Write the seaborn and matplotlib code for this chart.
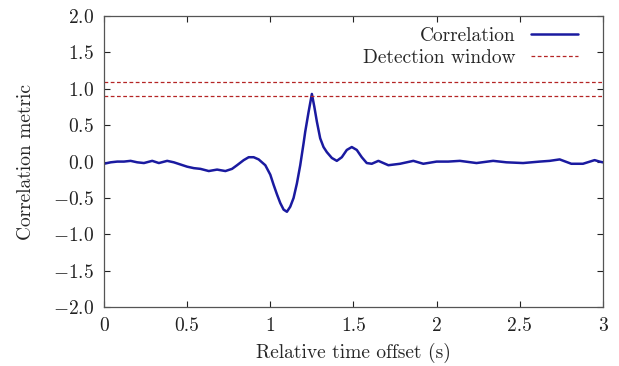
import matplotlib
matplotlib.use('Agg')
import matplotlib.pyplot as plt
import seaborn as sns
import pandas as pd

# Correlation curve
time_s = [0.00, 0.04, 0.08, 0.12, 0.16, 0.20, 0.24, 0.29, 0.33, 0.38, 0.42, 0.46,
          0.50, 0.54, 0.58, 0.63, 0.68, 0.73, 0.77, 0.80, 0.84, 0.87, 0.90, 0.93,
          0.97, 1.00, 1.02, 1.04, 1.06, 1.08, 1.10, 1.12, 1.14, 1.16, 1.18, 1.20,
          1.21, 1.23, 1.25, 1.265, 1.28, 1.30, 1.32, 1.34, 1.37, 1.40, 1.43, 1.46,
          1.49, 1.52, 1.55, 1.58, 1.61, 1.65, 1.71, 1.78, 1.86, 1.92, 2.00, 2.07,
          2.14, 2.24, 2.34, 2.42, 2.52, 2.62, 2.68, 2.74, 2.81, 2.88, 2.95, 2.98,
          3.00]
corr = [-0.03, -0.01, 0.00, 0.00, 0.01, -0.01, -0.02, 0.01, -0.02, 0.01, -0.01, -0.04,
        -0.07, -0.09, -0.10, -0.13, -0.11, -0.13, -0.10, -0.05, 0.02, 0.06, 0.06, 0.03,
        -0.05, -0.18, -0.32, -0.45, -0.57, -0.66, -0.69, -0.62, -0.50, -0.30, -0.05, 0.25,
        0.41, 0.68, 0.93, 0.75, 0.55, 0.32, 0.20, 0.13, 0.05, 0.01, 0.06, 0.16,
        0.20, 0.16, 0.06, -0.02, -0.03, 0.01, -0.05, -0.03, 0.01, -0.03, 0.00, 0.00,
        0.01, -0.02, 0.01, -0.01, -0.02, 0.00, 0.01, 0.03, -0.03, -0.03, 0.02, 0.00,
        -0.01]
window = [0.9, 1.1]

x_ticks = [0, 0.5, 1, 1.5, 2, 2.5, 3]
x_tick_labels = ['0', '0.5', '1', '1.5', '2', '2.5', '3']
y_ticks = [-2.0, -1.5, -1.0, -0.5, 0.0, 0.5, 1.0, 1.5, 2.0]

df = pd.DataFrame({'t': time_s, 'corr': corr})

sns.set_style('ticks')
plt.rcParams['font.family'] = ['cmr10', 'DejaVu Serif']
plt.rcParams['mathtext.fontset'] = 'cm'
plt.rcParams['axes.formatter.use_mathtext'] = True
fs = 14

fig = plt.figure(figsize=(6.19, 3.66), dpi=100)
ax = fig.add_axes([0.168, 0.161, 0.806, 0.795])

sns.lineplot(data=df, x='t', y='corr', ax=ax, color='#1a1aa0', lw=1.8,
             sort=False, estimator=None, label='Correlation')
for i, w in enumerate(window):
    ax.axhline(w, color='#b52525', lw=0.9, ls=(0, (3, 2)),
               label='Detection window' if i == 0 else None)

ax.set_xlim(0, 3)
ax.set_ylim(-2, 2)
ax.set_xticks(x_ticks)
ax.set_xticklabels(x_tick_labels)
ax.set_yticks(y_ticks)
ax.tick_params(direction='in', top=True, right=True, length=4, width=0.8,
               labelsize=fs, colors='#222222', pad=7)
for s in ax.spines.values():
    s.set_color('#555555')
    s.set_linewidth(0.9)
ax.set_xlabel('Relative time offset (s)', fontsize=fs, labelpad=6)
ax.set_ylabel('Correlation metric', fontsize=fs, labelpad=13)

ax.legend(loc='upper right', bbox_to_anchor=(0.95, 0.963), frameon=False,
          markerfirst=False, fontsize=fs, handlelength=2.4, handletextpad=0.8,
          borderaxespad=0, borderpad=0, labelspacing=0.2)

fig.savefig('out.png', dpi=100)
